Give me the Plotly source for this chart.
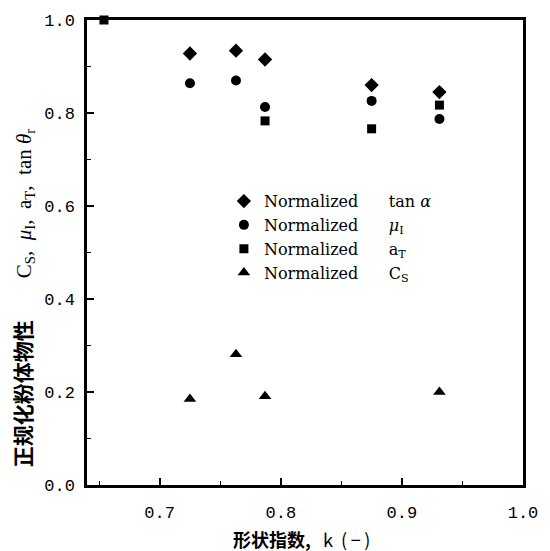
import plotly.graph_objects as go

# Data
k_tan = [0.725, 0.763, 0.787, 0.875, 0.931]
tan_alpha = [0.928, 0.934, 0.915, 0.860, 0.845]

k_mu = [0.725, 0.763, 0.787, 0.875, 0.931]
mu_i = [0.864, 0.870, 0.813, 0.826, 0.787]

k_aT = [0.654, 0.787, 0.875, 0.931]
a_T = [1.0, 0.783, 0.766, 0.817]

k_Cs = [0.725, 0.763, 0.787, 0.931]
C_s = [0.185, 0.281, 0.191, 0.200]

x_ticks = [0.7, 0.8, 0.9, 1.0]
y_ticks = [0.0, 0.2, 0.4, 0.6, 0.8, 1.0]

SP = "&#160;" * 6
names = [
    f"Normalized{SP}tan <i>α</i>",
    f"Normalized{SP}<i>μ</i><sub>I</sub>",
    f"Normalized{SP}a<sub>T</sub>",
    f"Normalized{SP}C<sub>S</sub>",
]

fig = go.Figure()
fig.add_trace(go.Scatter(x=k_tan, y=tan_alpha, mode="markers", name=names[0],
                         marker=dict(symbol="diamond", size=11, color="black")))
fig.add_trace(go.Scatter(x=k_mu, y=mu_i, mode="markers", name=names[1],
                         marker=dict(symbol="circle", size=10, color="black")))
fig.add_trace(go.Scatter(x=k_aT, y=a_T, mode="markers", name=names[2], cliponaxis=False,
                         marker=dict(symbol="square", size=9, color="black")))
fig.add_trace(go.Scatter(x=k_Cs, y=C_s, mode="markers", name=names[3],
                         marker=dict(symbol="triangle-up", size=11, color="black")))

tickfont = dict(family="Liberation Mono, Courier New, monospace", size=17, color="black")
cjk = "Noto Sans CJK SC, sans-serif"
NB = "&#160;"

ytitle = (f"<b>正规化粉体物性</b>{NB*8}C<sub>S</sub>,{NB*2}<i>μ</i><sub>I</sub>,"
          f"{NB*2}a<sub>T</sub>,{NB*2}tan{NB}<i>θ</i><sub>r</sub>")
xtitle = f"<b>形状指数,</b>{NB*3}k{NB*2}(&#8201;−&#8201;)"

fig.update_layout(
    width=550, height=551,
    margin=dict(l=87, r=20, t=15, b=66),
    paper_bgcolor="white", plot_bgcolor="white",
    showlegend=True,
    legend=dict(x=0.314, y=0.647, xanchor="left", yanchor="top",
                bgcolor="rgba(0,0,0,0)", borderwidth=0,
                font=dict(family="DejaVu Serif, serif", size=16, color="black"),
                itemwidth=30, tracegroupgap=0),
    xaxis=dict(range=[0.64, 1.0], tickvals=x_ticks, ticktext=[f"{v:.1f}" for v in x_ticks],
               showgrid=False, zeroline=False, showline=True, linecolor="black", linewidth=2.5,
               mirror=True, ticks="inside", ticklen=7, tickwidth=1.5, tickcolor="black",
               minor=dict(dtick=0.05, ticks="inside", ticklen=4, tickcolor="black", tickwidth=1),
               tickfont=tickfont, ticklabelstandoff=10),
    yaxis=dict(range=[0.0, 1.0], tickvals=y_ticks, ticktext=[f"{v:.1f}" for v in y_ticks],
               showgrid=False, zeroline=False, showline=True, linecolor="black", linewidth=2.5,
               mirror=True, ticks="inside", ticklen=7, tickwidth=1.5, tickcolor="black",
               minor=dict(dtick=0.1, ticks="inside", ticklen=4, tickcolor="black", tickwidth=1),
               tickfont=tickfont, ticklabelstandoff=6),
    annotations=[
        dict(text=xtitle, xref="paper", yref="paper",
             x=0.492, y=-0.117, xanchor="center", yanchor="middle", showarrow=False,
             font=dict(family=cjk, size=18, color="black")),
        dict(text=ytitle, xref="paper", yref="paper", x=-0.142, y=0.402,
             xanchor="center", yanchor="middle", textangle=-90, showarrow=False,
             font=dict(family="Liberation Serif, Noto Sans CJK SC", size=21, color="black")),
    ],
)

fig.write_html("out.html")
